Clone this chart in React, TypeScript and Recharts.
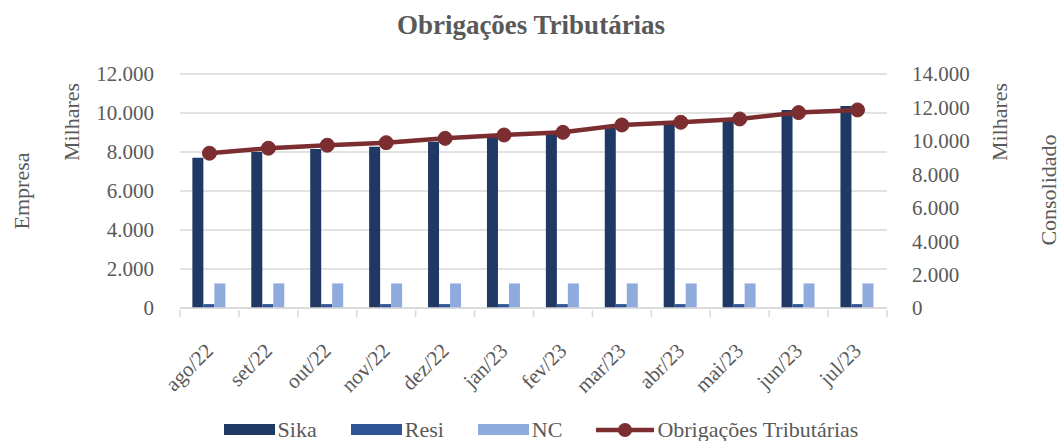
import { Bar, CartesianGrid, ComposedChart, Line, XAxis, YAxis } from "recharts";

const months = [
  "ago/22", "set/22", "out/22", "nov/22", "dez/22", "jan/23",
  "fev/23", "mar/23", "abr/23", "mai/23", "jun/23", "jul/23",
];
const sika = [7700, 8000, 8150, 8270, 8530, 8800, 9000, 9300, 9470, 9640, 10150, 10360];
const resi = [200, 200, 200, 200, 200, 200, 200, 200, 200, 200, 200, 200];
const nc = [1260, 1260, 1260, 1260, 1260, 1260, 1260, 1260, 1260, 1260, 1260, 1260];
const obrigacoes = [9260, 9560, 9740, 9890, 10150, 10350, 10510, 10950, 11110, 11310, 11690, 11850];
const leftTicks = [0, 2000, 4000, 6000, 8000, 10000, 12000];
const rightTicks = [0, 2000, 4000, 6000, 8000, 10000, 12000, 14000];

const data = months.map((m, i) => ({
  month: m,
  sika: sika[i],
  resi: resi[i],
  nc: nc[i],
  obrig: obrigacoes[i],
}));

const W = 1062;
const H = 441;
const margin = { top: 74, right: 85, bottom: 73, left: 90 };
const yAxisW = 90;
const plotW = W - margin.left - margin.right - yAxisW * 2;
const halfBand = plotW / months.length / 2;

const FONT = "Liberation Serif, DejaVu Serif, serif";
const TEXT = "#595959";
const GRID = "#d9d9d9";
const C_SIKA = "#1f3864";
const C_RESI = "#2f5597";
const C_NC = "#8faadc";
const C_LINE = "#7b2d30";

const fmt = (v: number) => v.toLocaleString("pt-BR");

function MonthTick(props: any) {
  const { x, y, payload, index } = props;
  return (
    <g>
      <line x1={x - halfBand} y1={y} x2={x - halfBand} y2={y + 7} stroke={GRID} strokeWidth={1.5} />
      {index === months.length - 1 && (
        <line x1={x + halfBand} y1={y} x2={x + halfBand} y2={y + 7} stroke={GRID} strokeWidth={1.5} />
      )}
      <text
        x={x + 5}
        y={y + 42}
        textAnchor="end"
        transform={`rotate(-45, ${x + 5}, ${y + 42})`}
        fill={TEXT}
        fontSize={21}
        fontFamily={FONT}
      >
        {payload.value}
      </text>
    </g>
  );
}

function VLabel({ text, cx, cy }: { text: string; cx: number; cy: number }) {
  return (
    <div
      style={{
        position: "absolute",
        left: cx,
        top: cy,
        transform: "translate(-50%, -50%) rotate(-90deg)",
        whiteSpace: "nowrap",
        fontFamily: FONT,
        fontSize: 22,
        color: TEXT,
        lineHeight: 1,
      }}
    >
      {text}
    </div>
  );
}

const legendItems = [
  { name: "Sika", color: C_SIKA, kind: "bar" },
  { name: "Resi", color: C_RESI, kind: "bar" },
  { name: "NC", color: C_NC, kind: "bar" },
  { name: "Obrigações Tributárias", color: C_LINE, kind: "line" },
];

export default function App() {
  return (
    <div style={{ position: "absolute", left: 0, top: 0, width: W, height: H, background: "#fff", overflow: "hidden", fontFamily: FONT }}>
      <div
        style={{
          position: "absolute",
          left: 0,
          width: W,
          top: 9,
          textAlign: "center",
          fontFamily: FONT,
          fontWeight: "bold",
          fontSize: 27,
          color: TEXT,
          lineHeight: 1.2,
        }}
      >
        Obrigações Tributárias
      </div>
      <ComposedChart width={W} height={H} data={data} margin={margin} barCategoryGap="21%" barGap={0}>
        <CartesianGrid yAxisId="left" vertical={false} stroke={GRID} strokeWidth={1.5} />
        <XAxis
          dataKey="month"
          height={60}
          tickLine={false}
          tickSize={0}
          axisLine={{ stroke: GRID, strokeWidth: 1.5 }}
          tick={<MonthTick />}
          interval={0}
        />
        <YAxis
          yAxisId="left"
          width={yAxisW}
          domain={[0, 12000]}
          ticks={leftTicks}
          tickFormatter={fmt}
          axisLine={false}
          tickLine={false}
          tickSize={0}
          tickMargin={26}
          tick={{ fill: TEXT, fontSize: 21, fontFamily: FONT }}
        />
        <YAxis
          yAxisId="right"
          orientation="right"
          width={yAxisW}
          domain={[0, 14000]}
          ticks={rightTicks}
          tickFormatter={fmt}
          axisLine={false}
          tickLine={false}
          tickSize={0}
          tickMargin={25}
          tick={{ fill: TEXT, fontSize: 21, fontFamily: FONT, textAnchor: "start" }}
        />
        <Bar yAxisId="left" dataKey="sika" name="Sika" fill={C_SIKA} isAnimationActive={false} />
        <Bar yAxisId="left" dataKey="resi" name="Resi" fill={C_RESI} isAnimationActive={false} />
        <Bar yAxisId="left" dataKey="nc" name="NC" fill={C_NC} isAnimationActive={false} />
        <Line
          yAxisId="right"
          dataKey="obrig"
          name="Obrigações Tributárias"
          stroke={C_LINE}
          strokeWidth={4.5}
          dot={{ r: 7, fill: C_LINE, stroke: C_LINE, strokeWidth: 1 }}
          isAnimationActive={false}
        />
      </ComposedChart>
      <VLabel text="Empresa" cx={22} cy={191} />
      <VLabel text="Milhares" cx={72} cy={122} />
      <VLabel text="Milhares" cx={1000} cy={122} />
      <VLabel text="Consolidado" cx={1049} cy={190} />
      <div
        style={{
          position: "absolute",
          left: 0,
          width: W,
          top: 419,
          height: 21,
          display: "flex",
          justifyContent: "center",
          alignItems: "center",
          paddingLeft: 20,
          boxSizing: "border-box",
          fontFamily: FONT,
          fontSize: 22,
          color: TEXT,
          lineHeight: 1,
        }}
      >
        {legendItems.map((it, i) => (
          <div key={it.name} style={{ display: "flex", alignItems: "center", marginLeft: i === 0 ? 0 : 34 }}>
            {it.kind === "bar" ? (
              <div style={{ width: 51, height: 11, background: it.color, marginRight: 3 }} />
            ) : (
              <svg width={58} height={16} style={{ marginRight: 3 }}>
                <line x1={0} y1={8} x2={58} y2={8} stroke={it.color} strokeWidth={4.5} />
                <circle cx={29} cy={8} r={7} fill={it.color} />
              </svg>
            )}
            <span style={{ fontFamily: FONT }}>{it.name}</span>
          </div>
        ))}
      </div>
    </div>
  );
}
